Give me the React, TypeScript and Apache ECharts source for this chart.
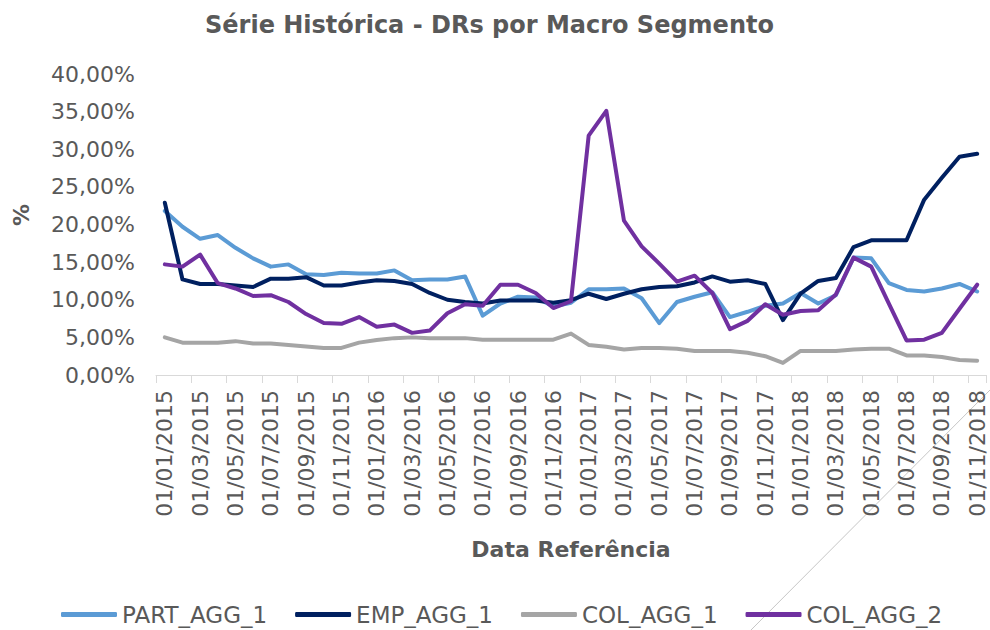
import React, { useEffect, useRef } from "react";
import * as echarts from "echarts";

const categories = [
  "01/01/2015", "01/02/2015", "01/03/2015", "01/04/2015", "01/05/2015", "01/06/2015",
  "01/07/2015", "01/08/2015", "01/09/2015", "01/10/2015", "01/11/2015", "01/12/2015",
  "01/01/2016", "01/02/2016", "01/03/2016", "01/04/2016", "01/05/2016", "01/06/2016",
  "01/07/2016", "01/08/2016", "01/09/2016", "01/10/2016", "01/11/2016", "01/12/2016",
  "01/01/2017", "01/02/2017", "01/03/2017", "01/04/2017", "01/05/2017", "01/06/2017",
  "01/07/2017", "01/08/2017", "01/09/2017", "01/10/2017", "01/11/2017", "01/12/2017",
  "01/01/2018", "01/02/2018", "01/03/2018", "01/04/2018", "01/05/2018", "01/06/2018",
  "01/07/2018", "01/08/2018", "01/09/2018", "01/10/2018", "01/11/2018",
];

const partAgg1 = [
  21.8, 19.7, 18.1, 18.6, 16.9, 15.5, 14.4, 14.7, 13.4, 13.3, 13.6, 13.5,
  13.5, 13.9, 12.6, 12.7, 12.7, 13.1, 7.9, 9.5, 10.4, 10.3, 9.1, 9.6,
  11.4, 11.4, 11.5, 10.2, 6.9, 9.7, 10.4, 11.0, 7.7, 8.4, 9.2, 9.5,
  10.9, 9.5, 10.6, 15.6, 15.5, 12.2, 11.3, 11.1, 11.5, 12.1, 11.1,
];

const empAgg1 = [
  22.9, 12.7, 12.1, 12.1, 11.9, 11.7, 12.8, 12.8, 13.0, 11.9, 11.9, 12.3,
  12.6, 12.5, 12.1, 10.9, 10.0, 9.7, 9.5, 9.9, 9.9, 9.9, 9.6, 9.95,
  10.8, 10.1, 10.8, 11.4, 11.7, 11.8, 12.3, 13.1, 12.4, 12.6, 12.1, 7.3,
  10.8, 12.5, 12.9, 17.0, 17.9, 17.9, 17.9, 23.3, 26.2, 29.0, 29.4,
];

const colAgg1 = [
  5.0, 4.3, 4.3, 4.3, 4.5, 4.2, 4.2, 4.0, 3.8, 3.6, 3.6, 4.3,
  4.65, 4.9, 5.0, 4.9, 4.9, 4.9, 4.7, 4.7, 4.7, 4.7, 4.7, 5.5,
  4.0, 3.75, 3.4, 3.6, 3.6, 3.5, 3.2, 3.2, 3.2, 2.95, 2.5, 1.6,
  3.2, 3.2, 3.2, 3.4, 3.5, 3.5, 2.6, 2.6, 2.4, 2.0, 1.9,
];

const colAgg2 = [
  14.7, 14.4, 16.0, 12.2, 11.5, 10.5, 10.6, 9.7, 8.1, 6.9, 6.8, 7.7,
  6.4, 6.7, 5.6, 5.9, 8.2, 9.4, 9.2, 12.0, 12.0, 10.9, 8.9, 9.8,
  31.8, 35.1, 20.5, 17.1, 14.8, 12.4, 13.2, 10.9, 6.1, 7.2, 9.4, 8.0,
  8.5, 8.6, 10.7, 15.6, 14.4, 9.5, 4.6, 4.7, 5.6, 8.8, 12.0,
];

const seriesNames = ["PART_AGG_1", "EMP_AGG_1", "COL_AGG_1", "COL_AGG_2"];
const seriesColors = ["#5B9BD5", "#002060", "#A5A5A5", "#7030A0"];
const seriesData = [partAgg1, empAgg1, colAgg1, colAgg2];

const FONT = "DejaVu Sans";
const TXT = "#595959";

export default function App() {
  const ref = useRef<HTMLDivElement>(null);

  useEffect(() => {
    if (!ref.current) return;
    const chart = echarts.init(ref.current, null, { renderer: "svg" });
    chart.setOption({
      animation: false,
      backgroundColor: "#ffffff",
      title: {
        text: "Série Histórica - DRs por Macro Segmento",
        left: 200,
        top: 8,
        textStyle: { fontFamily: FONT, fontSize: 24, fontWeight: "bold", color: TXT },
      },
      legend: {
        left: 56,
        top: 598,
        icon: "roundRect",
        itemWidth: 56,
        itemHeight: 5,
        itemGap: 28,
        textStyle: { fontFamily: FONT, fontSize: 23, color: TXT },
        data: seriesNames,
      },
      grid: { left: 156, top: 74, width: 830, height: 301, containLabel: false },
      xAxis: {
        type: "category",
        data: categories,
        boundaryGap: true,
        name: "Data Referência",
        nameLocation: "middle",
        nameGap: 163,
        nameTextStyle: { fontFamily: FONT, fontSize: 22, fontWeight: "bold", color: TXT },
        axisLine: { show: true, lineStyle: { color: "#D9D9D9", width: 1 } },
        axisTick: { show: true, interval: 1, length: 8, lineStyle: { color: "#D9D9D9" } },
        axisLabel: {
          interval: 1,
          rotate: 90,
          margin: 15,
          fontFamily: FONT,
          fontSize: 22,
          color: TXT,
        },
        splitLine: { show: false },
      },
      yAxis: {
        type: "value",
        min: 0,
        max: 40,
        interval: 5,
        axisLine: { show: false },
        axisTick: { show: false },
        splitLine: { show: false },
        axisLabel: {
          margin: 21,
          fontFamily: FONT,
          fontSize: 22,
          color: TXT,
          formatter: (v: number) => v.toFixed(2).replace(".", ",") + "%",
        },
      },
      graphic: [
        {
          type: "text",
          x: 21,
          y: 215,
          rotation: Math.PI / 2,
          style: {
            text: "%",
            fontFamily: FONT,
            fontSize: 22,
            fontWeight: "bold",
            fill: TXT,
            align: "center",
            verticalAlign: "middle",
          },
        },
        {
          type: "line",
          shape: { x1: 751, y1: 630, x2: 990, y2: 390 },
          style: { stroke: "#b8b8b8", lineWidth: 0.8 },
          silent: true,
        },
      ],
      series: seriesNames.map((name, k) => ({
        name,
        type: "line",
        data: seriesData[k],
        symbol: "none",
        showSymbol: false,
        color: seriesColors[k],
        itemStyle: { color: seriesColors[k] },
        lineStyle: { width: 4, color: seriesColors[k], cap: "round", join: "round" },
        z: 2 + k,
      })),
    });
    return () => chart.dispose();
  }, []);

  return (
    <div
      ref={ref}
      style={{ position: "fixed", left: 0, top: 0, width: 990, height: 630, background: "#fff" }}
    />
  );
}
